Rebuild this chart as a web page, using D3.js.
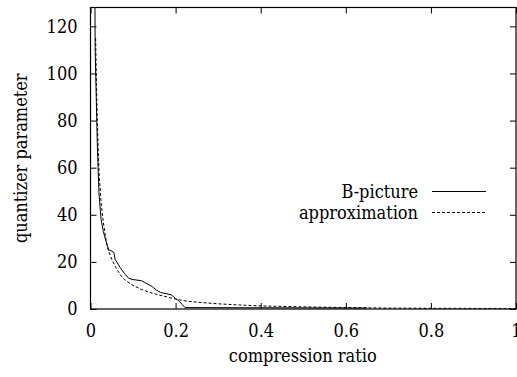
<!DOCTYPE html>
<html>
<head>
<meta charset="utf-8">
<script src="https://d3js.org/d3.v7.min.js"></script>
<style>
  body { margin: 0; background: #fff; }
</style>
</head>
<body>
<svg id="chart" width="517" height="377"></svg>
<script>

// B-picture (measured)
var bp_x = [0.0105, 0.011, 0.0135, 0.016, 0.018, 0.020, 0.023, 0.025, 0.030, 0.036, 0.043, 0.046, 0.055, 0.058, 0.065, 0.070, 0.080, 0.090, 0.100, 0.120, 0.130, 0.145, 0.155, 0.165, 0.190, 0.200, 0.210, 0.215, 0.222, 0.65];
var bp_q = [128, 110, 90, 70, 59, 49, 42, 38, 33, 29, 25, 25, 24, 21, 19, 17.5, 15, 13, 12.5, 12, 11, 9.5, 8, 7, 6, 4.5, 3, 2, 0.6, 0.4];

// approximation curve (dashed)
var ap_x = [0.012, 0.014, 0.016, 0.018, 0.020, 0.025, 0.030, 0.035, 0.040, 0.050, 0.060, 0.070, 0.080, 0.100, 0.120, 0.140, 0.160, 0.180, 0.200, 0.220, 0.250, 0.300, 0.350, 0.400, 0.500, 0.600, 0.700, 0.800, 1.000];
var ap_q = [115, 95, 80, 68, 58, 45, 37, 31, 26, 21, 17.5, 14.5, 12.5, 10, 8.3, 7, 6, 5.1, 4.2, 3.5, 2.9, 2.2, 1.7, 1.3, 0.9, 0.6, 0.4, 0.3, 0.2];

var x_ticks = [0, 0.2, 0.4, 0.6, 0.8, 1];
var y_ticks = [0, 20, 40, 60, 80, 100, 120];

var series = [
  {name: 'B-picture', xs: bp_x, ys: bp_q, dash: null},
  {name: 'approximation', xs: ap_x, ys: ap_q, dash: '3,2'}
];

var svg = d3.select('#chart');
var pl = 90.5, pr = 516, pt = 7.5, pb = 309;
var fs = 18;
var ff = "DejaVu Serif Condensed, DejaVu Serif, serif";

var x = d3.scaleLinear().domain([0, 1]).range([pl, pr]);
var y = d3.scaleLinear().domain([0, 128]).range([pb, pt]);

svg.append('defs').append('clipPath').attr('id', 'clip')
  .append('rect').attr('x', pl).attr('y', pt)
  .attr('width', pr - pl).attr('height', pb - pt);

var line = d3.line()
  .x(function(d) { return x(d[0]); })
  .y(function(d) { return y(d[1]); });

series.forEach(function(s) {
  var pts = s.xs.map(function(v, i) { return [v, s.ys[i]]; });
  svg.append('path')
    .datum(pts)
    .attr('clip-path', 'url(#clip)')
    .attr('fill', 'none')
    .attr('stroke', '#000')
    .attr('stroke-width', 1)
    .attr('stroke-dasharray', s.dash)
    .attr('d', line);
});

function styleText(g) {
  g.select('.domain').remove();
  g.attr('font-family', ff).attr('font-size', fs).attr('font-stretch', 'condensed');
  g.selectAll('text').attr('fill', '#000');
}

// axes, gnuplot style: ticks inside on all four sides
var tl = 6;
svg.append('g').attr('transform', 'translate(0,' + pb + ')')
  .call(d3.axisBottom(x).tickValues(x_ticks).tickSizeInner(-tl).tickSizeOuter(0).tickPadding(15).tickFormat(d3.format('')))
  .call(styleText);
svg.append('g').attr('transform', 'translate(0,' + pt + ')')
  .call(d3.axisTop(x).tickValues(x_ticks).tickSizeInner(-tl).tickSizeOuter(0).tickFormat(''))
  .call(function(g) { g.select('.domain').remove(); });
svg.append('g').attr('transform', 'translate(' + pl + ',0)')
  .call(d3.axisLeft(y).tickValues(y_ticks).tickSizeInner(-tl).tickSizeOuter(0).tickPadding(13))
  .call(styleText);
svg.append('g').attr('transform', 'translate(' + pr + ',0)')
  .call(d3.axisRight(y).tickValues(y_ticks).tickSizeInner(-tl).tickSizeOuter(0).tickFormat(''))
  .call(function(g) { g.select('.domain').remove(); });

svg.append('rect')
  .attr('x', pl).attr('y', pt)
  .attr('width', pr - pl).attr('height', pb - pt)
  .attr('fill', 'none').attr('stroke', '#000').attr('stroke-width', 1.2);

var labels = svg.append('g')
  .attr('font-family', ff).attr('font-size', fs).attr('font-stretch', 'condensed');

labels.append('text')
  .attr('x', (pl + pr) / 2 - 0.5).attr('y', 362)
  .attr('text-anchor', 'middle')
  .text('compression ratio');

labels.append('text')
  .attr('transform', 'translate(27,' + ((pt + pb) / 2) + ') rotate(-90)')
  .attr('text-anchor', 'middle')
  .text('quantizer parameter');

// legend
series.forEach(function(s, i) {
  var ly = 191.5 + i * 21;
  labels.append('text')
    .attr('x', 418).attr('y', ly + 6)
    .attr('text-anchor', 'end')
    .text(s.name);
  labels.append('line')
    .attr('x1', 432).attr('x2', 486).attr('y1', ly).attr('y2', ly)
    .attr('stroke', '#000').attr('stroke-width', 1)
    .attr('stroke-dasharray', s.dash);
});

</script>
</body>
</html>
